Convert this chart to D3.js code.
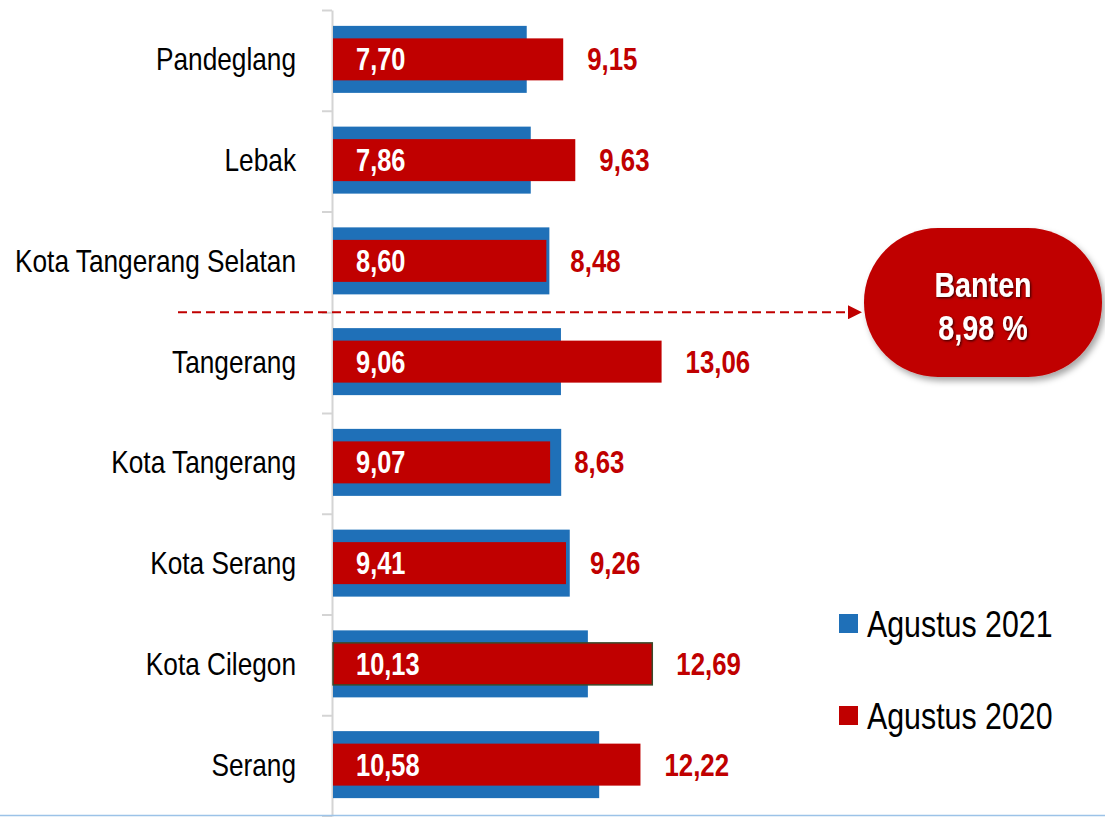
<!DOCTYPE html>
<html lang="id">
<head>
<meta charset="UTF-8">
<title>TPT Kabupaten/Kota Banten</title>
<script src="https://d3js.org/d3.v7.min.js"></script>
<style>
  body { margin: 0; background: #fff; }
</style>
</head>
<body>
<div id="chart"></div>
<script>
// data
const categories = ["Pandeglang", "Lebak", "Kota Tangerang Selatan", "Tangerang",
  "Kota Tangerang", "Kota Serang", "Kota Cilegon", "Serang"];
const aug2021 = [7.70, 7.86, 8.60, 9.06, 9.07, 9.41, 10.13, 10.58];
const aug2020 = [9.15, 9.63, 8.48, 13.06, 8.63, 9.26, 12.69, 12.22];
const seriesNames = ["Agustus 2021", "Agustus 2020"];
const bantenLabel = "Banten";
const bantenValue = 8.98;

const W = 1105, H = 817;
const blue = "#1f70b8", red = "#c00000";

// pick a narrow font, fall back to squeezing Liberation Sans
const ctx = document.createElement("canvas").getContext("2d");
ctx.font = '30px "Liberation Sans Narrow", monospace';
const w1 = ctx.measureText("Agustus 2021").width;
ctx.font = '30px monospace';
const w2 = ctx.measureText("Agustus 2021").width;
const hasNarrow = Math.abs(w1 - w2) > 0.5;
const fam = hasNarrow ? '"Liberation Sans Narrow", "Arial Narrow", sans-serif' : '"Liberation Sans", Arial, sans-serif';
const sx = hasNarrow ? 1 : 0.82;

const locale = d3.formatLocale({ decimal: ",", thousands: ".", grouping: [3], currency: ["", ""] });
const fmt = locale.format(".2f");

const svg = d3.select("#chart").append("svg")
  .attr("width", W).attr("height", H)
  .style("font-family", fam);

const defs = svg.append("defs");
defs.append("filter").attr("id", "pillShadow")
  .attr("x", "-20%").attr("y", "-20%").attr("width", "140%").attr("height", "150%")
  .append("feDropShadow").attr("dx", 3).attr("dy", 4).attr("stdDeviation", 3)
  .attr("flood-color", "#000").attr("flood-opacity", 0.35);
defs.append("filter").attr("id", "txtShadow")
  .append("feDropShadow").attr("dx", 1.2).attr("dy", 1.2).attr("stdDeviation", 0.8)
  .attr("flood-color", "#000").attr("flood-opacity", 0.7);
defs.append("marker").attr("id", "arrow")
  .attr("viewBox", "0 0 10 10").attr("refX", 10).attr("refY", 5)
  .attr("markerWidth", 7).attr("markerHeight", 7).attr("markerUnits", "strokeWidth")
  .attr("orient", "auto")
  .append("path").attr("d", "M0,0L10,5L0,10Z").attr("fill", red);

// scales
const x = d3.scaleLinear().domain([0, 10]).range([333, 333 + 251.6]);
const y = d3.scaleBand().domain(categories).range([10, 816]).padding(0);
const yc = c => y(c) + y.bandwidth() / 2 - 1;

// helper for (possibly squeezed) text
function addText(g, tx, ty, str, opts) {
  return g.append("text")
    .attr("transform", `translate(${tx},${ty}) scale(${sx},1)`)
    .attr("text-anchor", opts.anchor || "start")
    .attr("font-size", opts.size)
    .attr("font-weight", opts.weight || "normal")
    .attr("fill", opts.fill || "#000")
    .text(str);
}

// axis with ticks at the band boundaries
const yEdges = d3.scaleLinear().domain([0, categories.length]).range(y.range());
svg.append("g")
  .attr("transform", "translate(332,0)")
  .call(d3.axisLeft(yEdges).tickValues(d3.range(categories.length + 1)).tickSize(10).tickSizeOuter(0).tickFormat(""))
  .call(g => g.selectAll("path,line").attr("stroke", "#d4d4d4").attr("stroke-width", 2));

// bottom rule
svg.append("line").attr("x1", 0).attr("x2", W).attr("y1", 815.5).attr("y2", 815.5)
  .attr("stroke", "#9cc3e8").attr("stroke-width", 1.5);

// blue bars (2021)
svg.append("g").selectAll("rect").data(categories).join("rect")
  .attr("x", x(0))
  .attr("y", c => yc(c) - 33.5)
  .attr("width", (c, i) => x(aug2021[i]) - x(0))
  .attr("height", 67)
  .attr("fill", blue);

// red bars (2020)
svg.append("g").selectAll("rect").data(categories).join("rect")
  .attr("x", x(0))
  .attr("y", c => yc(c) - 21)
  .attr("width", (c, i) => x(aug2020[i]) - x(0))
  .attr("height", 42)
  .attr("fill", red)
  .attr("stroke", c => c === "Kota Cilegon" ? "#3b4a2b" : "none")
  .attr("stroke-width", 1.5);

// labels
const lab = svg.append("g");
categories.forEach((c, i) => {
  addText(lab, 296, yc(c) + 11, c, { anchor: "end", size: 32 });
  addText(lab, 356, yc(c) + 11, fmt(aug2021[i]), { size: 31, weight: "bold", fill: "#fff" });
  addText(lab, x(aug2020[i]) + 24, yc(c) + 11, fmt(aug2020[i]), { size: 31.5, weight: "bold", fill: red });
});

// Banten reference arrow (between the bands around the provincial value)
const pos = aug2021.findIndex(v => v > bantenValue);
const yLine = y(categories[pos]);
svg.append("line")
  .attr("x1", 178).attr("x2", 862).attr("y1", yLine).attr("y2", yLine)
  .attr("stroke", red).attr("stroke-width", 2).attr("stroke-dasharray", "9,5")
  .attr("marker-end", "url(#arrow)");

const pill = svg.append("g");
pill.append("rect")
  .attr("x", 864).attr("y", 228).attr("width", 238).attr("height", 149)
  .attr("rx", 74).attr("ry", 74)
  .attr("fill", red).attr("filter", "url(#pillShadow)");
const pt = pill.append("g").attr("filter", "url(#txtShadow)");
addText(pt, 983, 297, bantenLabel, { anchor: "middle", size: 35, weight: "bold", fill: "#fff" });
addText(pt, 983, 340, fmt(bantenValue) + " %", { anchor: "middle", size: 35, weight: "bold", fill: "#fff" });

// legend
const leg = svg.append("g");
[blue, red].forEach((col, i) => {
  const ly = 614 + i * 92;
  leg.append("rect").attr("x", 839).attr("y", ly).attr("width", 19).attr("height", 19).attr("fill", col);
  addText(leg, 867, ly + 23, seriesNames[i], { size: 37 });
});
</script>
</body>
</html>
